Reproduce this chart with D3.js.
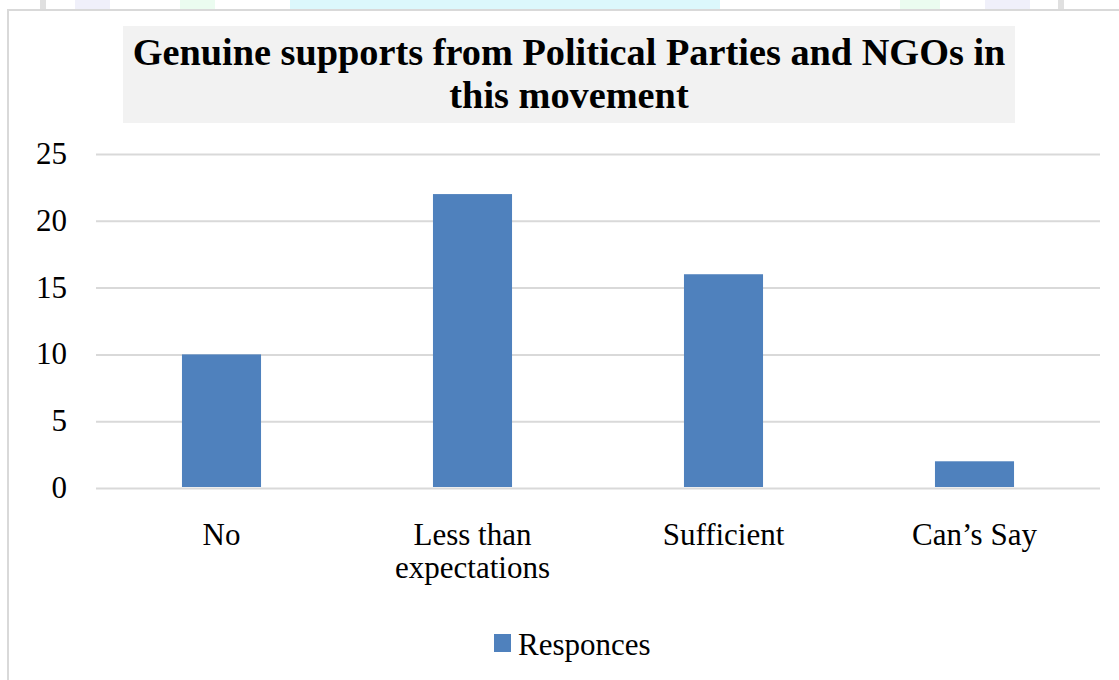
<!DOCTYPE html>
<html>
<head>
<meta charset="utf-8">
<script src="https://cdn.jsdelivr.net/npm/d3@7"></script>
<style>
  html, body { margin: 0; padding: 0; background: #ffffff; }
  svg { display: block; }
</style>
</head>
<body>
<svg id="chart" width="1119" height="680"></svg>
<script>
// ---- data ----
const categories = [["No"], ["Less than", "expectations"], ["Sufficient"], ["Can\u2019s Say"]];
const categoryKeys = ["No", "Less than expectations", "Sufficient", "Can\u2019s Say"];
const responses = [10, 22, 16, 2];
const yTicks = [0, 5, 10, 15, 20, 25];
const titleLines = ["Genuine supports from Political Parties and NGOs in", "this movement"];
const seriesName = "Responces";

const W = 1119, H = 680;
const FONT = '"Liberation Serif", "Times New Roman", Tinos, serif';
const svg = d3.select("#chart");

// faint background watermark strip above chart frame
const wm = svg.append("g");
wm.append("rect").attr("x", 290).attr("y", 0).attr("width", 430).attr("height", 9).attr("fill", "#dcf8fc");
wm.append("rect").attr("x", 40).attr("y", 0).attr("width", 6).attr("height", 9).attr("fill", "#e0e0e0");
wm.append("rect").attr("x", 75).attr("y", 0).attr("width", 35).attr("height", 9).attr("fill", "#f0f0fa");
wm.append("rect").attr("x", 180).attr("y", 0).attr("width", 35).attr("height", 9).attr("fill", "#ebfcf0");
wm.append("rect").attr("x", 900).attr("y", 0).attr("width", 40).attr("height", 9).attr("fill", "#ebfcf0");
wm.append("rect").attr("x", 985).attr("y", 0).attr("width", 45).attr("height", 9).attr("fill", "#f0f0fa");
wm.append("rect").attr("x", 1058).attr("y", 0).attr("width", 6).attr("height", 9).attr("fill", "#e0e0e0");

// chart frame
svg.append("rect")
  .attr("x", 8).attr("y", 10)
  .attr("width", W + 10).attr("height", H + 10)
  .attr("fill", "#ffffff")
  .attr("stroke", "#d9d9d9").attr("stroke-width", 2);

// title box
svg.append("rect")
  .attr("x", 123).attr("y", 26).attr("width", 892).attr("height", 97)
  .attr("fill", "#f2f2f2");
svg.append("g").selectAll("text").data(titleLines).join("text")
  .attr("x", 569).attr("y", (d, i) => 65 + i * 43)
  .attr("text-anchor", "middle")
  .style("font-family", FONT)
  .style("font-size", "38.3px").style("font-weight", "bold").attr("fill", "#000")
  .text(d => d);

// scales
const x = d3.scaleBand().domain(categoryKeys).range([96, 1100])
  .paddingInner(0.685).paddingOuter(0.3425);
const y = d3.scaleLinear().domain([0, 25]).range([488, 154]);

// gridlines
const grid = svg.append("g")
  .attr("transform", "translate(96,0)")
  .call(d3.axisLeft(y).tickValues(yTicks).tickSize(-1004).tickFormat(""));
grid.select(".domain").remove();
grid.selectAll("line").attr("stroke", "#d9d9d9").attr("stroke-width", 2);

// y labels
svg.append("g").selectAll("text").data(yTicks).join("text")
  .attr("x", 67).attr("y", d => y(d) + 10)
  .attr("text-anchor", "end")
  .style("font-family", FONT).style("font-size", "31px").attr("fill", "#000")
  .text(d => d);

// bars
svg.append("g").selectAll("rect").data(responses).join("rect")
  .attr("x", (d, i) => x(categoryKeys[i]))
  .attr("y", d => y(d))
  .attr("width", x.bandwidth())
  .attr("height", d => y(0) - y(d) - 1)
  .attr("fill", "#4f81bd");

// x labels
const xl = svg.append("g");
categories.forEach((lines, i) => {
  const cx = x(categoryKeys[i]) + x.bandwidth() / 2;
  lines.forEach((ln, j) => {
    xl.append("text")
      .attr("x", cx).attr("y", 545 + j * 33)
      .attr("text-anchor", "middle")
      .style("font-family", FONT).style("font-size", "31px").attr("fill", "#000")
      .text(ln);
  });
});

// legend
svg.append("rect").attr("x", 494).attr("y", 634).attr("width", 17).attr("height", 18).attr("fill", "#4f81bd");
svg.append("text").attr("x", 518).attr("y", 655)
  .style("font-family", FONT).style("font-size", "31px").attr("fill", "#000").text(seriesName);
</script>
</body>
</html>
